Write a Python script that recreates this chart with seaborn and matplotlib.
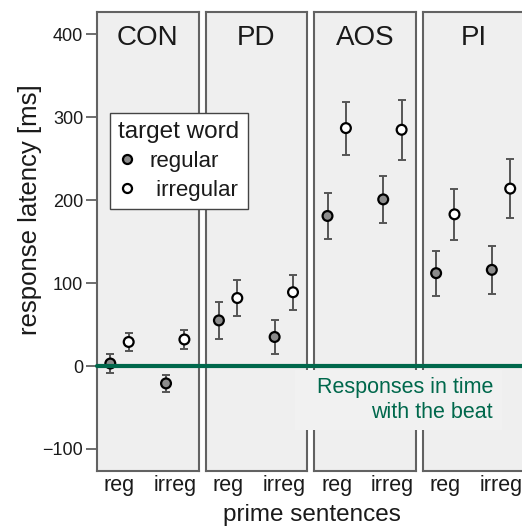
import numpy as np
import pandas as pd
import matplotlib
matplotlib.use("Agg")
import matplotlib.pyplot as plt
from matplotlib.lines import Line2D
from matplotlib.patches import Rectangle
import seaborn as sns

# -------------------------------
# data
# -------------------------------
groups = ["CON", "PD", "AOS", "PI"]
primes = ["reg", "irreg"]

regular_mean = {"CON": [3, -21], "PD": [55, 35], "AOS": [181, 201], "PI": [112, 116]}
regular_err = {"CON": [11, 10.5], "PD": [22, 21], "AOS": [28, 28], "PI": [27, 29]}
irregular_mean = {"CON": [29, 32], "PD": [82, 89], "AOS": [287, 285], "PI": [183, 214]}
irregular_err = {"CON": [11, 12], "PD": [22, 21], "AOS": [32, 36], "PI": [31, 36]}

yticks = [-100, 0, 100, 200, 300, 400]

rows = []
for g in groups:
    for i, p in enumerate(primes):
        rows.append(dict(group=g, prime=p, target="regular",
                         mean=regular_mean[g][i], err=regular_err[g][i]))
        rows.append(dict(group=g, prime=p, target="irregular",
                         mean=irregular_mean[g][i], err=irregular_err[g][i]))
df = pd.DataFrame(rows)

# horizontal dodge of the two target words within a prime category
dodge = {"regular": -0.165, "irregular": 0.165}
df["x"] = df["prime"].map({p: i for i, p in enumerate(primes)}) + df["target"].map(dodge)

# -------------------------------
# styling
# -------------------------------
sns.set_theme(style="white")
plt.rcParams["font.family"] = ["Liberation Sans", "DejaVu Sans"]

panel_face = "#efefef"
spine_col = "#626262"
green = "#00684c"
text_col = "#1a1a1a"
palette = {"regular": "#8c8c8c", "irregular": "white"}

W, H = 522, 526
fig = plt.figure(figsize=(W / 100, H / 100), dpi=100)

left0, pitch, width = 97, 108.6, 101.5
top, bottom = 12.3, 470.7

axes = []
for k, g in enumerate(groups):
    ax = fig.add_axes([(left0 + k * pitch) / W, 1 - bottom / H,
                       width / W, (bottom - top) / H])
    ax.set_facecolor(panel_face)
    sub = df[df["group"] == g]

    for t in ["regular", "irregular"]:
        s = sub[sub["target"] == t]
        ax.errorbar(s["x"], s["mean"], yerr=s["err"], fmt="none",
                    ecolor="#555555", elinewidth=1.4, capsize=3.2,
                    capthick=1.4, zorder=2)
    sns.scatterplot(data=sub, x="x", y="mean", hue="target", palette=palette,
                    s=50, edgecolor="black", linewidth=1.6, legend=False,
                    zorder=3, ax=ax)

    ax.set_xlim(-0.404, 1.418)
    ax.set_ylim(-126.3, 426.7)
    ax.set_xticks(range(len(primes)))
    ax.set_xticklabels(primes, fontsize=15.5)
    ax.tick_params(axis="x", length=0, pad=3, labelcolor=text_col)
    ax.set_xlabel("")
    ax.set_ylabel("")
    if k == 0:
        ax.set_yticks(yticks)
        ax.set_yticklabels([f"{v}".replace("-", "\u2212") for v in yticks], fontsize=13)
        ax.tick_params(axis="y", left=True, length=8, width=1.3,
                       color=spine_col, pad=2, labelcolor=text_col)
    else:
        ax.set_yticks([])
    for sp in ax.spines.values():
        sp.set_color(spine_col)
        sp.set_linewidth(1.5)
        sp.set_visible(True)

    ax.text(0.5, 0.944, g, transform=ax.transAxes, ha="center", va="center",
            fontsize=20, color=text_col)

    # green zero line, carried through the gap to the next panel
    ax.axhline(0, xmin=0, xmax=1 + (pitch - width) / width, color=green,
               lw=3, clip_on=False, zorder=6)
    axes.append(ax)

# box behind the annotation, covering the panel borders
fig.add_artist(Rectangle((295 / W, 1 - 430 / H), (502 - 295) / W, (430 - 370) / H,
                         transform=fig.transFigure, facecolor="#f1f1f1",
                         edgecolor="none", zorder=4))
fig.text(493 / W, 1 - 400 / H, "Responses in time\nwith the beat",
         ha="right", va="center", multialignment="right", fontsize=15.5,
         color=green, zorder=5)

# legend
handles = [Line2D([], [], ls="none", marker="o", markersize=6.5,
                  markerfacecolor=palette[t], markeredgecolor="black",
                  markeredgewidth=1.6) for t in ["regular", "irregular"]]
leg = fig.legend(handles, ["regular", " irregular"], title="target word",
                 loc="upper left", bbox_to_anchor=(110 / W, 1 - 113 / H),
                 fontsize=16, title_fontsize=17.5, frameon=True, fancybox=False,
                 borderpad=0.38, labelspacing=0.35, handlelength=0.8,
                 handletextpad=0.6, borderaxespad=0)
leg._legend_box.align = "left"
for txt in leg.get_texts():
    txt.set_color(text_col)
leg.get_title().set_color(text_col)
leg.get_frame().set_edgecolor("#444444")
leg.get_frame().set_linewidth(1.0)
leg.get_frame().set_facecolor("white")
leg.get_frame().set_alpha(1)
leg.set_zorder(7)

fig.text(30 / W, 1 - 210 / H, "response latency [ms]", rotation=90,
         ha="center", va="center", fontsize=18.5, color=text_col)
fig.text(312 / W, 1 - 515 / H, "prime sentences", ha="center", va="center",
         fontsize=17.5, color=text_col)

fig.savefig("out.png", dpi=100)
